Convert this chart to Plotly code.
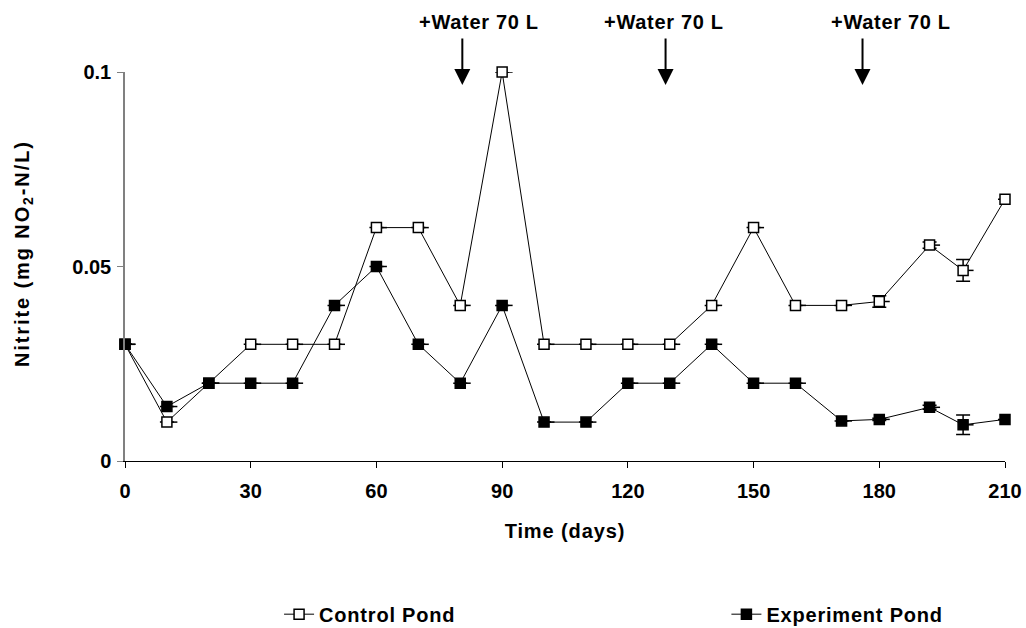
import plotly.graph_objects as go

# Sampling days and nitrite concentrations (mg NO2-N/L)
days = [0, 10, 20, 30, 40, 50, 60, 70, 80, 90, 100, 110, 120, 130,
        140, 150, 160, 171, 180, 192, 200, 210]
control = [0.030, 0.010, 0.020, 0.030, 0.030, 0.030, 0.060, 0.060, 0.040,
           0.100, 0.030, 0.030, 0.030, 0.030, 0.040, 0.060, 0.040, 0.040,
           0.041, 0.0555, 0.049, 0.0673]
experiment = [0.030, 0.014, 0.020, 0.020, 0.020, 0.040, 0.050, 0.030, 0.020,
              0.040, 0.010, 0.010, 0.020, 0.020, 0.030, 0.020, 0.020, 0.0103,
              0.0107, 0.0138, 0.0093, 0.0107]
# standard deviations (None where no bar is drawn)
control_sd = [None] * 18 + [0.0015, 0.0008, 0.0028, None]
experiment_sd = [None] * 18 + [0.0003, 0.0005, 0.0025, None]

# Water additions
water_days = [80.5, 129, 176]
water_labels = ["+Water 70 L", "+Water 70 L", "+Water 70 L"]
label_shift = [17, -2, 28]

FONT = "Arial, Liberation Sans, sans-serif"
TICK_DAYS = 2.5  # short marker tail drawn to the right of each point


def spaced(text, px):
    return f'<span style="letter-spacing:{px}px">{text}</span>'


fig = go.Figure()

common = dict(
    mode="lines+markers",
    cliponaxis=False,
    line=dict(color="black", width=1),
    error_x=dict(type="constant", value=TICK_DAYS, symmetric=False,
                 valueminus=0, color="black", thickness=1.5, width=0),
)

fig.add_trace(go.Scatter(
    x=days, y=control, name=spaced("Control Pond", 0.8),
    marker=dict(symbol="square", size=10, color="white",
                line=dict(color="black", width=1.5)),
    error_y=dict(type="data", array=control_sd, color="black",
                 thickness=1.5, width=7),
    legend="legend", showlegend=True,
    **common,
))
fig.add_trace(go.Scatter(
    x=days, y=experiment, name=spaced("Experiment Pond", 0.8),
    marker=dict(symbol="square", size=10, color="black",
                line=dict(color="black", width=1.5)),
    error_y=dict(type="data", array=experiment_sd, color="black",
                 thickness=1.5, width=7),
    legend="legend2", showlegend=True,
    **common,
))

annotations = []
for d, lab, sh in zip(water_days, water_labels, label_shift):
    annotations.append(dict(
        x=d, xref="x", y=0.9666, yref="paper", text="", showarrow=True,
        ax=0, ay=-48, arrowhead=2, arrowwidth=2, arrowsize=1.6,
        arrowcolor="black",
    ))
    annotations.append(dict(
        x=d, xref="x", y=1.1285, yref="paper", xshift=sh, text=spaced(lab, 0.7),
        showarrow=False, xanchor="center", yanchor="middle",
        font=dict(family=FONT, size=20, color="black", weight="bold"),
    ))

annotations.append(dict(
    x=-0.1159, xref="paper", y=0.532, yref="paper",
    text=spaced("Nitrite (mg NO<sub>2</sub>-N/L)", 1.9),
    textangle=-90, showarrow=False, xanchor="center", yanchor="middle",
    font=dict(family=FONT, size=20, color="black", weight="bold"),
))

legend_style = dict(
    orientation="h", yanchor="middle", xanchor="left",
    xref="container", yref="container",
    bgcolor="rgba(0,0,0,0)",
    font=dict(family=FONT, size=20, color="black", weight="bold"),
)

fig.update_layout(
    width=1026, height=628,
    margin=dict(l=125, r=21, t=72, b=167, autoexpand=False),
    paper_bgcolor="white", plot_bgcolor="white",
    font=dict(family=FONT, color="black"),
    showlegend=True,
    annotations=annotations,
    legend=dict(x=0.272, y=0.022, **legend_style),
    legend2=dict(x=0.708, y=0.022, **legend_style),
    xaxis=dict(
        range=[0, 210], tickvals=[0, 30, 60, 90, 120, 150, 180, 210],
        showgrid=False, zeroline=False, automargin=False,
        showline=True, linecolor="black", linewidth=1,
        ticks="outside", ticklen=6, tickcolor="black", tickwidth=1,
        ticklabelstandoff=6,
        tickfont=dict(family=FONT, size=20, color="black", weight="bold"),
        title=dict(text=spaced("Time (days)", 0.9), standoff=22,
                   font=dict(family=FONT, size=20, color="black", weight="bold")),
    ),
    yaxis=dict(
        range=[0, 0.1], tickvals=[0, 0.05, 0.1], ticktext=["0", "0.05", "0.1"],
        showgrid=False, zeroline=False, automargin=False,
        showline=True, linecolor="#808080", linewidth=1.5,
        ticks="outside", ticklen=6, tickcolor="#808080", tickwidth=1,
        ticklabelstandoff=2,
        tickfont=dict(family=FONT, size=20, color="black", weight="bold"),
    ),
)

fig.write_html("out.html")
